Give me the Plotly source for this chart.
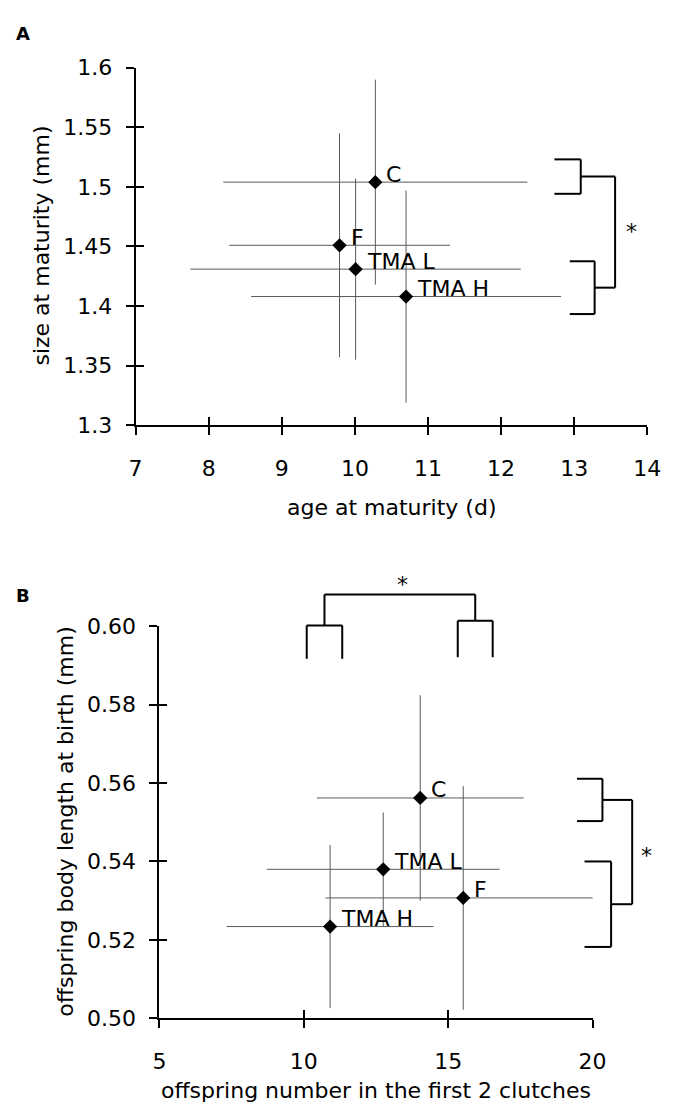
import plotly.graph_objects as go

# ---------------- data ----------------
groups = ["C", "F", "TMA L", "TMA H"]

# Panel A
age_at_maturity = [10.28, 9.79, 10.01, 10.70]
age_err = [2.08, 1.51, 2.26, 2.12]
size_at_maturity = [1.504, 1.451, 1.431, 1.408]
size_err = [0.086, 0.094, 0.076, 0.089]

# Panel B
offspring_number = [14.03, 15.52, 12.75, 10.91]
number_err = [3.58, 4.77, 4.03, 3.58]
offspring_length = [0.5562, 0.5307, 0.5380, 0.5234]
length_err = [0.0262, 0.0285, 0.0145, 0.0208]

A_xticks = [7, 8, 9, 10, 11, 12, 13, 14]
A_yticks = [1.3, 1.35, 1.4, 1.45, 1.5, 1.55, 1.6]
A_yticktext = ["1.3", "1.35", "1.4", "1.45", "1.5", "1.55", "1.6"]
B_xticks = [5, 10, 15, 20]
B_yticks = [0.50, 0.52, 0.54, 0.56, 0.58, 0.60]
B_yticktext = ["0.50", "0.52", "0.54", "0.56", "0.58", "0.60"]

# significance brackets (data units)
A_bracket_upper = dict(x0=12.73, x1=13.09, y0=1.4942, y1=1.5231)
A_bracket_lower = dict(x0=12.94, x1=13.28, y0=1.3933, y1=1.4376)
A_bracket_join_x = 13.56
A_star = (13.79, 1.467)

B_top_left = dict(x0=10.10, x1=11.33, y0=0.5917, y1=0.6002)
B_top_right = dict(x0=15.33, x1=16.54, y0=0.5921, y1=0.6014)
B_top_join_y = 0.6081
B_top_star = (13.43, 0.6120)
B_right_upper = dict(x0=19.46, x1=20.34, y0=0.5503, y1=0.5611)
B_right_lower = dict(x0=19.72, x1=20.64, y0=0.5182, y1=0.5400)
B_right_join_x = 21.37
B_right_star = (21.87, 0.5429)

# ---------------- layout geometry ----------------
W, H = 679, 1118
A_xr, A_yr = [7, 14], [1.3, 1.6]
B_xr, B_yr = [5, 20], [0.5, 0.6]
A_xd = [132.7 / W, 660.7 / W]
A_yd = [1 - 422.7 / H, 1 - 57.0 / H]
B_xd = [157.3 / W, 604.3 / W]
B_yd = [1 - 1029.3 / H, 1 - 628.3 / H]

FONT = "DejaVu Sans"
FS = 22


def px(v, rng, dom):
    return dom[0] + (v - rng[0]) / (rng[1] - rng[0]) * (dom[1] - dom[0])


def A(x, y):
    return px(x, A_xr, A_xd), px(y, A_yr, A_yd)


def B(x, y):
    return px(x, B_xr, B_xd), px(y, B_yr, B_yd)


fig = go.Figure()

err_col = "#5a5a5a"
for xs, ys, xe, ye, xa, ya in [
    (age_at_maturity, size_at_maturity, age_err, size_err, "x", "y"),
    (offspring_number, offspring_length, number_err, length_err, "x2", "y2"),
]:
    fig.add_trace(go.Scatter(
        x=xs, y=ys, mode="markers", xaxis=xa, yaxis=ya, showlegend=False,
        cliponaxis=False, hoverinfo="skip",
        marker=dict(symbol="diamond", size=11, color="black", line=dict(width=0)),
        error_x=dict(type="data", array=xe, color=err_col, thickness=1, width=0),
        error_y=dict(type="data", array=ye, color=err_col, thickness=1, width=0),
    ))

# invisible traces for overlay (inside tick) axes
fig.add_trace(go.Scatter(x=[], y=[], xaxis="x3", yaxis="y3", showlegend=False))
fig.add_trace(go.Scatter(x=[], y=[], xaxis="x4", yaxis="y4", showlegend=False))

tickfont = dict(family=FONT, size=FS, color="black")
base = dict(showline=True, linecolor="black", linewidth=2, ticks="outside",
            ticklen=8, tickwidth=2, tickcolor="black", showgrid=False,
            zeroline=False, tickfont=tickfont, fixedrange=True)
inside = dict(showline=False, ticks="inside", ticklen=8, tickwidth=2,
              tickcolor="black", showgrid=False, zeroline=False,
              showticklabels=False, fixedrange=True)

fig.update_layout(
    width=W, height=H, autosize=False,
    margin=dict(l=0, r=0, t=0, b=0),
    paper_bgcolor="white", plot_bgcolor="white",
    hovermode=False,
    xaxis=dict(base, domain=A_xd, range=A_xr, anchor="y",
               tickvals=A_xticks, ticklabelstandoff=14),
    yaxis=dict(base, domain=A_yd, range=[A_yr[0] - 1e-9, A_yr[1] + 1e-9], anchor="x",
               tickvals=A_yticks, ticktext=A_yticktext, ticklabelstandoff=9),
    xaxis2=dict(base, domain=B_xd, range=B_xr, anchor="y2",
                tickvals=B_xticks, ticklabelstandoff=14),
    yaxis2=dict(base, domain=B_yd, range=[B_yr[0] - 1e-9, B_yr[1] + 1e-9], anchor="x2",
                tickvals=B_yticks, ticktext=B_yticktext, ticklabelstandoff=9),
    xaxis3=dict(inside, overlaying="x", range=A_xr, anchor="y", tickvals=A_xticks),
    yaxis3=dict(inside, overlaying="y", range=[A_yr[0] - 1e-9, A_yr[1] + 1e-9],
                anchor="x", tickvals=A_yticks),
    xaxis4=dict(inside, overlaying="x2", range=B_xr, anchor="y2", tickvals=B_xticks),
    yaxis4=dict(inside, overlaying="y2", range=[B_yr[0] - 1e-9, B_yr[1] + 1e-9],
                anchor="x2", tickvals=B_yticks),
)

shapes = []


def seg(p0, p1):
    shapes.append(dict(type="line", xref="paper", yref="paper",
                       x0=p0[0], y0=p0[1], x1=p1[0], y1=p1[1],
                       line=dict(color="black", width=2)))


def right_bracket(conv, b):
    # ]-shaped bracket, returns mid point of vertical
    seg(conv(b["x0"], b["y1"]), conv(b["x1"], b["y1"]))
    seg(conv(b["x1"], b["y1"]), conv(b["x1"], b["y0"]))
    seg(conv(b["x1"], b["y0"]), conv(b["x0"], b["y0"]))
    return b["x1"], (b["y0"] + b["y1"]) / 2


def top_bracket(conv, b):
    # n-shaped bracket
    seg(conv(b["x0"], b["y0"]), conv(b["x0"], b["y1"]))
    seg(conv(b["x0"], b["y1"]), conv(b["x1"], b["y1"]))
    seg(conv(b["x1"], b["y1"]), conv(b["x1"], b["y0"]))
    return (b["x0"] + b["x1"]) / 2, b["y1"]


# Panel A brackets
ux, uy = right_bracket(A, A_bracket_upper)
lx, ly = right_bracket(A, A_bracket_lower)
seg(A(ux, uy), A(A_bracket_join_x, uy))
seg(A(lx, ly), A(A_bracket_join_x, ly))
seg(A(A_bracket_join_x, uy), A(A_bracket_join_x, ly))

# Panel B top brackets
tlx, tly = top_bracket(B, B_top_left)
trx, try_ = top_bracket(B, B_top_right)
seg(B(tlx, tly), B(tlx, B_top_join_y))
seg(B(trx, try_), B(trx, B_top_join_y))
seg(B(tlx, B_top_join_y), B(trx, B_top_join_y))

# Panel B right brackets
ux, uy = right_bracket(B, B_right_upper)
lx, ly = right_bracket(B, B_right_lower)
seg(B(ux, uy), B(B_right_join_x, uy))
seg(B(lx, ly), B(B_right_join_x, ly))
seg(B(B_right_join_x, uy), B(B_right_join_x, ly))

fig.update_layout(shapes=shapes)

ann = []
labfont = dict(family=FONT, size=FS, color="black")
for g, x, y in zip(groups, age_at_maturity, size_at_maturity):
    ann.append(dict(x=x, y=y, xref="x", yref="y", text=g, showarrow=False,
                    xanchor="left", yanchor="middle", xshift=9, yshift=8, font=labfont))
for g, x, y in zip(groups, offspring_number, offspring_length):
    ann.append(dict(x=x, y=y, xref="x2", yref="y2", text=g, showarrow=False,
                    xanchor="left", yanchor="middle", xshift=9, yshift=8, font=labfont))

for conv, (sx, sy) in [(A, A_star), (B, B_top_star), (B, B_right_star)]:
    p = conv(sx, sy)
    ann.append(dict(x=p[0], y=p[1], xref="paper", yref="paper", text="*",
                    showarrow=False, xanchor="center", yanchor="middle", yshift=-5,
                    font=dict(family=FONT, size=FS, color="black")))

titlefont = dict(family=FONT, size=FS, color="black")
ann += [
    dict(x=396.7 / W, y=1 - 506.7 / H, xref="paper", yref="paper",
         text="age at maturity (d)", showarrow=False, font=titlefont,
         xanchor="center", yanchor="middle"),
    dict(x=36 / W, y=1 - 239 / H, xref="paper", yref="paper",
         text="size at maturity (mm)", showarrow=False, font=titlefont,
         textangle=-90, xanchor="center", yanchor="middle"),
    dict(x=380.8 / W, y=1 - 1103 / H, xref="paper", yref="paper",
         text="offspring number in the first 2 clutches", showarrow=False,
         font=titlefont, xanchor="center", yanchor="middle"),
    dict(x=60 / W, y=1 - 828 / H, xref="paper", yref="paper",
         text="offspring body length at birth (mm)", showarrow=False,
         font=titlefont, textangle=-90, xanchor="center", yanchor="middle"),
    dict(x=16.5 / W, y=1 - 21.5 / H, xref="paper", yref="paper", text="<b>A</b>",
         showarrow=False, font=dict(family=FONT, size=18, color="black"),
         xanchor="center", yanchor="middle"),
    dict(x=16.5 / W, y=1 - 597 / H, xref="paper", yref="paper", text="<b>B</b>",
         showarrow=False, font=dict(family=FONT, size=18, color="black"),
         xanchor="center", yanchor="middle"),
]
fig.update_layout(annotations=ann)

fig.write_html(
    "out.html",
    config={"displayModeBar": False, "staticPlot": True},
    post_script="document.body.style.margin='0';document.body.style.overflow='hidden';",
)
